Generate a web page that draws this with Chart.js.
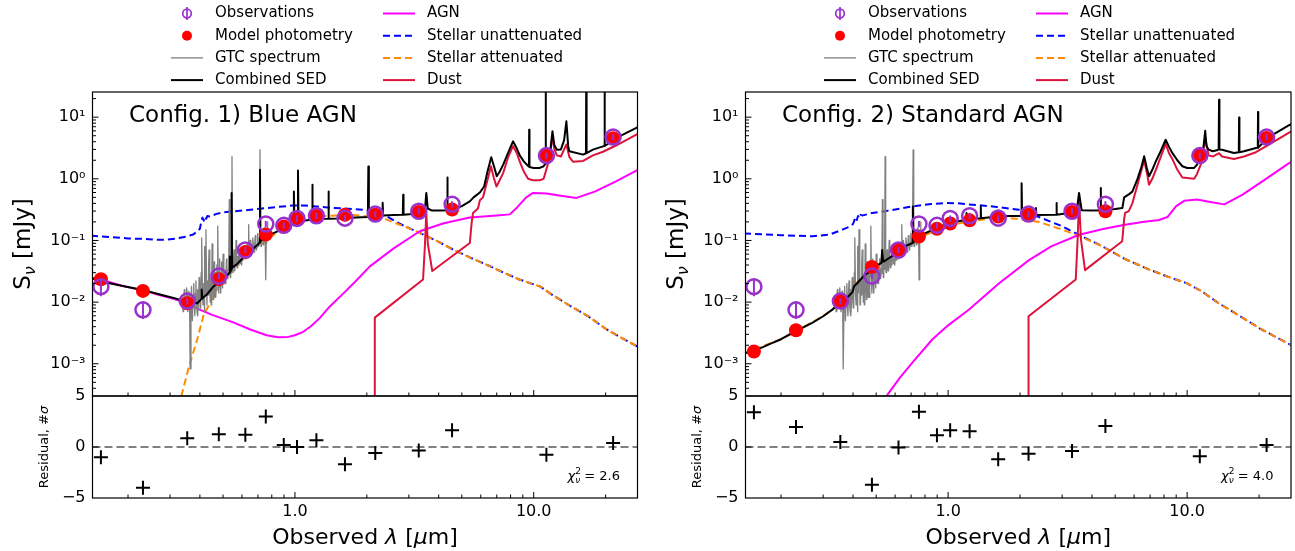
<!DOCTYPE html>
<html>
<head>
<meta charset="utf-8">
<title>SED fits</title>
<script src="https://cdn.jsdelivr.net/npm/chart.js@4.4.1/dist/chart.umd.min.js"></script>
<style>
  html, body { margin: 0; padding: 0; background: #fff; }
  body { position: relative; width: 1295px; height: 551px; overflow: hidden; }
  canvas { position: absolute; }
</style>
</head>
<body>
<canvas id="sed-blue" width="650" height="400" style="left:0px;top:0px"></canvas>
<canvas id="res-blue" width="650" height="171" style="left:0px;top:380px"></canvas>
<canvas id="sed-std" width="642" height="400" style="left:653px;top:0px"></canvas>
<canvas id="res-std" width="642" height="171" style="left:653px;top:380px"></canvas>
<script>
// Photometric bands: FUV NUV u g r i z Y J H Ks W1 W2 W3 W4 (micron)
const bandWave = [0.154, 0.231, 0.354, 0.48, 0.62, 0.755, 0.898, 1.02, 1.23, 1.62, 2.17, 3.3, 4.55, 11.3, 21.5];
const obsFlux  = [0.0178, 0.0075, 0.0104, 0.0264, 0.07, 0.185, 0.176, 0.228, 0.252, 0.23, 0.268, 0.298, 0.387, 2.38, 4.75];
const obsErr   = [0.0053, 0.0022, 0.0012, 0.003, 0.008, 0.021, 0.02, 0.026, 0.029, 0.026, 0.031, 0.034, 0.044, 0.27, 0.54];

const modelBlue = [0.0235, 0.0152, 0.0096, 0.0236, 0.065, 0.125, 0.168, 0.222, 0.25, 0.262, 0.262, 0.29, 0.318, 2.42, 4.55];
const modelStd  = [0.00158, 0.0035, 0.0104, 0.0372, 0.07, 0.116, 0.155, 0.188, 0.212, 0.245, 0.262, 0.29, 0.297, 2.45, 4.6];

const residBlue = [-1.0, -4.0, 0.85, 1.25, 1.2, 3.0, 0.2, 0.0, 0.65, -1.7, -0.6, -0.35, 1.65, -0.75, 0.4];
const residStd  = [3.4, 1.95, 0.5, -3.7, -0.05, 3.45, 1.15, 1.65, 1.55, -1.2, -0.65, -0.4, 2.05, -0.9, 0.2];

const chi2Blue = 2.6;
const chi2Std = 4.0;

// GTC long-slit spectrum [micron, mJy]
const gtcSpec = [
  [0.338,0.012],[0.34,0.007],[0.342,0.0085],[0.344,0.016],[0.346,0.014],[0.348,0.008],[0.35,0.0102],[0.352,0.017],
  [0.354,0.0128],[0.356,0.007],[0.358,0.0088],[0.36,0.015],[0.362,0.0125],[0.364,0.00083],[0.367,0.011],[0.369,0.018],
  [0.371,0.0078],[0.372,0.005],[0.375,0.013],[0.377,0.02],[0.379,0.0088],[0.381,0.006],[0.383,0.0138],[0.385,0.022],
  [0.387,0.0098],[0.389,0.007],[0.391,0.016],[0.392,0.006],[0.395,0.0105],[0.397,0.025],[0.399,0.015],[0.401,0.008],
  [0.403,0.0115],[0.405,0.03],[0.407,0.11],[0.41,0.013],[0.412,0.009],[0.414,0.02],[0.417,0.011],[0.418,0.007],
  [0.419,0.08],[0.421,0.014],[0.424,0.15],[0.427,0.016],[0.428,0.009],[0.43,0.022],[0.433,0.013],[0.435,0.04],
  [0.437,0.07],[0.44,0.017],[0.442,0.01],[0.444,0.024],[0.446,0.009],[0.448,0.015],[0.45,0.088],[0.453,0.018],
  [0.455,0.011],[0.457,0.024],[0.459,0.045],[0.461,0.017],[0.463,0.012],[0.465,0.03],[0.467,0.012],[0.469,0.019],
  [0.471,0.04],[0.473,0.026],[0.475,0.17],[0.478,0.02],[0.48,0.014],[0.482,0.028],[0.484,0.05],[0.486,0.021],
  [0.489,0.014],[0.491,0.03],[0.493,0.045],[0.496,0.023],[0.498,0.017],[0.5,0.06],[0.504,0.026],[0.507,0.02],
  [0.509,0.033],[0.512,0.02],[0.514,0.027],[0.517,0.05],[0.519,0.035],[0.522,0.024],[0.524,0.029],[0.528,0.037],
  [0.531,0.46],[0.534,0.032],[0.536,0.025],[0.538,0.04],[0.542,0.034],[0.545,2.29],[0.548,0.037],[0.55,0.03],
  [0.553,0.044],[0.556,0.07],[0.558,0.039],[0.561,0.032],[0.564,0.05],[0.567,0.1],[0.57,0.044],[0.573,0.036],
  [0.576,0.055],[0.579,0.04],[0.582,0.048],[0.585,0.07],[0.588,0.057],[0.591,0.042],[0.595,0.05],[0.598,0.04],
  [0.602,0.062],[0.606,0.048],[0.61,0.055],[0.614,0.08],[0.618,0.066],[0.622,0.05],[0.626,0.06],[0.63,0.09],
  [0.634,0.072],[0.637,0.055],[0.64,0.18],[0.643,0.06],[0.646,0.066],[0.65,0.1],[0.654,0.08],[0.658,0.06],
  [0.662,0.072],[0.666,0.11],[0.67,0.086],[0.674,0.065],[0.678,0.078],[0.682,0.12],[0.686,0.094],[0.69,0.07],
  [0.694,0.084],[0.698,0.13],[0.702,0.1],[0.705,0.08],[0.709,0.09],[0.714,2.94],[0.718,0.105],[0.721,0.08],
  [0.724,0.094],[0.728,0.15],[0.732,0.118],[0.736,0.085],[0.74,0.1],[0.744,0.16],[0.748,0.128],[0.751,0.09],
  [0.753,0.11],[0.756,0.023],[0.759,0.12],[0.762,0.09],[0.764,0.14],[0.767,0.2],[0.77,0.115]
];

// Config. 1) Blue AGN model components [micron, mJy]
const sedBlue = [
  [0.14,0.0245],[0.16,0.021],[0.19,0.0183],[0.231,0.0157],[0.27,0.0134],[0.31,0.0117],[0.34,0.0105],[0.355,0.0097],
  [0.37,0.0093],[0.38,0.0099],[0.39,0.0096],[0.4,0.0106],[0.405,0.0112],[0.407,0.016],[0.409,0.0114],[0.42,0.0126],
  [0.43,0.0136],[0.44,0.0152],[0.455,0.0178],[0.47,0.0198],[0.474,0.028],[0.478,0.0205],[0.5,0.024],[0.52,0.027],
  [0.532,0.03],[0.534,0.055],[0.537,0.031],[0.541,0.034],[0.543,0.59],[0.546,0.036],[0.57,0.041],[0.6,0.05],
  [0.62,0.058],[0.65,0.068],[0.68,0.078],[0.7,0.086],[0.712,0.093],[0.714,1.4],[0.717,0.098],[0.74,0.106],
  [0.76,0.114],[0.8,0.128],[0.85,0.142],[0.9,0.158],[0.95,0.176],[0.985,0.186],[0.99,0.62],[0.995,0.188],
  [1.025,0.2],[1.03,1.36],[1.035,0.202],[1.1,0.21],[1.15,0.215],[1.18,0.218],[1.183,0.8],[1.186,0.218],
  [1.25,0.222],[1.3,0.224],[1.38,0.226],[1.383,0.62],[1.386,0.226],[1.5,0.228],[1.62,0.232],[1.8,0.236],
  [2.02,0.24],[2.03,1.58],[2.04,0.242],[2.2,0.25],[2.32,0.255],[2.33,0.41],[2.34,0.255],[2.6,0.258],
  [2.83,0.262],[2.84,0.55],[2.85,0.262],[3.1,0.268],[3.33,0.28],[3.5,0.3],[3.55,0.59],[3.6,0.33],
  [3.75,0.305],[4.1,0.305],[4.34,0.31],[4.35,1.05],[4.36,0.31],[4.6,0.316],[5.0,0.36],[5.4,0.43],
  [5.6,0.5],[5.95,0.6],[6.2,0.75],[6.4,1.3],[6.64,2.24],[6.85,1.5],[7.0,1.1],[7.2,1.3],[7.45,1.7],
  [7.8,2.6],[8.19,4.06],[8.5,3.1],[8.74,2.4],[9.1,1.9],[9.5,1.6],[9.55,1.58],[9.57,6.26],[9.6,1.56],
  [10.0,1.5],[10.6,1.5],[11.0,1.6],[11.2,1.75],[11.22,100],[11.25,1.8],[11.66,2.33],[11.98,5.9],[12.2,3.5],
  [12.5,2.97],[13.0,3.0],[13.4,4.2],[13.7,8.56],[13.95,3.3],[14.1,2.8],[16.1,2.47],[16.55,2.6],[16.6,100],
  [16.65,2.6],[17.7,2.97],[19.5,3.36],[19.75,3.4],[19.8,100],[19.85,3.4],[22.2,4.6],[26.9,6.7],[28,7.3]
];
const agnBlue = [
  [0.14,0.0245],[0.154,0.0232],[0.19,0.0183],[0.231,0.0155],[0.27,0.013],[0.31,0.0113],[0.35,0.0097],[0.388,0.0079],
  [0.45,0.0062],[0.552,0.0047],[0.65,0.0036],[0.761,0.0029],[0.85,0.0027],[0.937,0.00273],[1.0,0.0029],[1.083,0.0033],
  [1.17,0.0041],[1.27,0.0055],[1.4,0.0085],[1.6,0.014],[1.8,0.022],[2.06,0.038],[2.6,0.075],[3.33,0.141],
  [4.2,0.19],[5.4,0.235],[7.0,0.255],[7.94,0.265],[8.5,0.34],[9.3,0.5],[9.93,0.59],[11.3,0.58],
  [13.0,0.53],[15.1,0.49],[18,0.62],[22,0.9],[26.9,1.36],[28,1.48]
];
const unattBlue = [
  [0.14,0.12],[0.17,0.113],[0.2,0.108],[0.232,0.106],[0.26,0.103],[0.29,0.103],[0.32,0.108],[0.35,0.115],
  [0.375,0.125],[0.39,0.14],[0.4,0.155],[0.405,0.2],[0.41,0.235],[0.415,0.21],[0.42,0.245],[0.425,0.225],
  [0.43,0.25],[0.44,0.245],[0.47,0.27],[0.5,0.285],[0.552,0.296],[0.65,0.315],[0.761,0.336],[0.85,0.35],
  [0.98,0.37],[1.1,0.37],[1.23,0.356],[1.4,0.34],[1.6,0.33],[1.93,0.315],[2.2,0.28],[2.42,0.246],
  [2.8,0.18],[3.33,0.133],[4.0,0.095],[4.6,0.071],[5.4,0.053],[6.3,0.041],[7.5,0.03],[8.7,0.0233],
  [10.6,0.018],[12.0,0.013],[14.2,0.0087],[17,0.0058],[20.2,0.0036],[23,0.0027],[26.9,0.00195],[28,0.0018]
];
const attBlue = [
  [0.33,0.0002],[0.336,0.00032],[0.36,0.0009],[0.39,0.0025],[0.414,0.006],[0.441,0.0098],[0.486,0.02],[0.54,0.03],
  [0.6,0.048],[0.67,0.07],[0.76,0.1],[0.85,0.14],[0.98,0.19],[1.1,0.22],[1.27,0.245],[1.5,0.255],
  [1.75,0.26],[2.0,0.245],[2.42,0.218],[2.8,0.175],[3.12,0.15],[3.55,0.117],[4.0,0.095],[4.6,0.071],
  [5.4,0.053],[6.3,0.041],[7.5,0.03],[8.7,0.0233],[10.6,0.018],[12.0,0.013],[14.2,0.0087],[17,0.0058],
  [20.2,0.0036],[23,0.0027],[26.9,0.00195],[28,0.0018]
];
const dustBlue = [
  [2.16,0.00001],[2.16,0.0056],[3.44,0.0233],[3.5,0.08],[3.55,0.28],[3.6,0.09],[3.76,0.032],[5.4,0.091],
  [5.5,0.2],[5.57,0.28],[5.84,0.33],[5.95,0.45],[6.13,0.5],[6.4,0.95],[6.62,1.6],[6.8,1.05],
  [6.98,0.75],[7.2,0.95],[7.45,1.25],[7.8,2.2],[8.19,3.4],[8.5,2.6],[8.74,1.9],[9.1,1.3],
  [9.47,1.0],[9.93,0.95],[10.6,0.95],[11.0,1.0],[11.4,1.6],[11.66,2.2],[11.98,5.0],[12.2,3.0],
  [12.5,2.4],[13.0,2.3],[13.4,3.0],[13.7,3.6],[14.1,2.25],[14.6,1.9],[16.1,1.95],[17.7,2.4],
  [19.5,2.75],[22.2,3.5],[26.9,5.2],[28,5.7]
];

// Config. 2) Standard AGN model components [micron, mJy]
const sedStd = [
  [0.14,0.00148],[0.154,0.0016],[0.18,0.0021],[0.2,0.0025],[0.231,0.0034],[0.27,0.0046],[0.3,0.0059],[0.33,0.0077],
  [0.355,0.0098],[0.37,0.011],[0.385,0.0127],[0.398,0.0145],[0.404,0.018],[0.418,0.0206],[0.45,0.028],[0.475,0.032],
  [0.5,0.039],[0.525,0.043],[0.53,0.07],[0.535,0.045],[0.58,0.055],[0.614,0.07],[0.66,0.08],[0.709,0.091],
  [0.712,0.357],[0.716,0.094],[0.756,0.113],[0.79,0.128],[0.893,0.158],[1.0,0.19],[1.1,0.205],[1.19,0.215],
  [1.192,0.28],[1.195,0.216],[1.23,0.222],[1.368,0.23],[1.37,0.357],[1.373,0.23],[1.61,0.245],[1.8,0.25],
  [2.02,0.25],[2.03,0.85],[2.04,0.25],[2.15,0.26],[2.32,0.26],[2.33,0.336],[2.34,0.26],[2.83,0.262],
  [2.84,0.405],[2.85,0.262],[3.2,0.28],[3.45,0.3],[3.53,0.59],[3.62,0.31],[4.0,0.305],[4.34,0.31],
  [4.35,0.71],[4.36,0.31],[5.0,0.325],[5.36,0.336],[5.45,0.5],[5.7,0.56],[5.9,0.62],[6.2,1.0],
  [6.45,1.6],[6.61,2.33],[6.78,1.5],[6.93,1.1],[7.15,1.4],[7.4,1.93],[7.75,2.8],[8.13,4.3],
  [8.4,3.3],[8.67,2.63],[9.1,2.0],[9.55,1.6],[10.0,1.5],[10.7,1.5],[11.0,1.7],[11.4,2.18],
  [11.7,3.2],[11.9,6.0],[12.05,3.4],[12.3,2.97],[12.8,2.8],[13.3,2.9],[13.55,3.0],[13.6,19.1],
  [13.65,3.0],[14.0,2.97],[15.7,2.63],[16.45,2.7],[16.5,9.9],[16.55,2.7],[17.3,2.8],[19.4,3.17],
  [19.75,3.2],[19.8,12.1],[19.85,3.2],[21.7,4.6],[26.7,7.4],[28,8.1]
];
const agnStd = [
  [0.5,0.00012],[0.556,0.00031],[0.63,0.0006],[0.71,0.00105],[0.86,0.0025],[1.0,0.0042],[1.22,0.0075],[1.63,0.02],
  [2.18,0.048],[2.7,0.08],[3.53,0.124],[4.5,0.155],[5.5,0.18],[6.5,0.2],[7.64,0.215],[8.27,0.24],
  [9.0,0.36],[9.72,0.44],[11.0,0.46],[12.5,0.42],[14.3,0.385],[17,0.55],[21,0.95],[26.7,1.8],[28,1.95]
];
const unattStd = [
  [0.14,0.13],[0.2,0.122],[0.27,0.117],[0.32,0.125],[0.361,0.15],[0.39,0.17],[0.4,0.185],[0.405,0.21],
  [0.41,0.24],[0.415,0.215],[0.42,0.25],[0.425,0.23],[0.43,0.26],[0.44,0.255],[0.482,0.28],[0.55,0.3],
  [0.71,0.357],[0.85,0.39],[0.98,0.405],[1.1,0.4],[1.22,0.385],[1.39,0.37],[1.6,0.35],[1.98,0.315],
  [2.4,0.24],[3.0,0.17],[3.5,0.125],[4.4,0.081],[5.5,0.05],[6.9,0.034],[8.5,0.025],[9.9,0.0205],
  [11.5,0.015],[13.6,0.0095],[16,0.0065],[20,0.0038],[26,0.0022],[28,0.0019]
];
const attStd = [
  [0.14,0.00148],[0.2,0.0025],[0.231,0.0034],[0.3,0.0059],[0.355,0.0098],[0.385,0.0127],[0.398,0.0145],[0.41,0.02],
  [0.45,0.027],[0.48,0.034],[0.53,0.043],[0.62,0.068],[0.76,0.11],[0.9,0.15],[1.0,0.175],[1.22,0.205],
  [1.5,0.225],[1.75,0.235],[2.0,0.22],[2.4,0.2],[2.72,0.17],[3.0,0.15],[3.4,0.125],[3.5,0.12],
  [4.4,0.081],[5.5,0.05],[6.9,0.034],[8.5,0.025],[9.9,0.0205],[11.5,0.015],[13.6,0.0095],[16,0.0065],
  [20,0.0038],[26,0.0022],[28,0.0019]
];
const dustStd = [
  [2.17,0.00001],[2.17,0.0059],[3.42,0.0233],[3.48,0.1],[3.53,0.45],[3.6,0.1],[3.74,0.033],[5.35,0.097],
  [5.45,0.22],[5.5,0.28],[5.7,0.3],[5.9,0.4],[6.2,0.8],[6.61,2.0],[6.8,1.2],[6.93,0.8],
  [7.15,1.0],[7.4,1.4],[7.7,2.1],[8.13,3.7],[8.4,2.6],[8.67,2.1],[9.1,1.4],[9.55,1.05],
  [10.7,1.0],[11.0,1.2],[11.4,1.7],[11.9,4.6],[12.3,2.4],[12.8,2.3],[13.6,2.6],[14.0,2.3],
  [15.7,2.1],[17.3,2.3],[19.4,2.7],[21.7,3.5],[26.7,5.6],[28,6.2]
];

// axes
const X_MIN = 0.142, X_MAX = 27.2;
const Y_MIN = 3.16e-4, Y_MAX = 25.6;
const xMajor = [1, 10];
const xMajorLabels = ['1.0', '10.0'];
const xMinor = [0.2, 0.3, 0.4, 0.5, 0.6, 0.7, 0.8, 0.9, 2, 3, 4, 5, 6, 7, 8, 9, 20];
const yMajor = [1e-3, 1e-2, 1e-1, 1, 10];
const yMajorLabels = ['10⁻³', '10⁻²', '10⁻¹', '10⁰', '10¹'];
const yMinor = [];
[1e-4, 1e-3, 1e-2, 1e-1, 1, 10].forEach(d => { for (let k = 2; k <= 9; k++) yMinor.push(k * d); });
const resMajor = [-5, 0, 5];

const FAMILY = 'DejaVu Sans';
const COLORS = {
  obs: '#9932cc', model: '#ff0000', gtc: '#808080', sed: '#000000',
  agn: '#ff00ff', unatt: '#0000ff', att: '#ff8c00', dust: '#dc143c'
};

const legendCols = [
  ['Observations', 'Model photometry', 'GTC spectrum', 'Combined SED'],
  ['AGN', 'Stellar unattenuated', 'Stellar attenuated', 'Dust']
];

const xy = pairs => pairs.map(([x, y]) => ({ x, y }));
const zip = (xs, ys) => xs.map((x, i) => ({ x, y: ys[i] }));

function line(label, pairs, color, width, dash, order) {
  return {
    label, data: xy(pairs), showLine: true,
    borderColor: color, backgroundColor: color, borderWidth: width,
    borderDash: dash || [], borderJoinStyle: 'round', borderCapStyle: 'butt',
    pointRadius: 0, tension: 0, order
  };
}

// mixed-style text (sub/superscripts, italic symbols)
function partFont(p) { return (p.it ? 'italic ' : '') + p.s + 'px "' + FAMILY + '"'; }
function richWidth(ctx, parts) {
  let w = 0;
  parts.forEach(p => { if (p.noAdv) return; ctx.font = partFont(p); w += ctx.measureText(p.t).width; });
  return w;
}
function drawRich(ctx, parts, x, y, align) {
  const w = richWidth(ctx, parts);
  let cx = align === 'center' ? x - w / 2 : align === 'right' ? x - w : x;
  ctx.textAlign = 'left';
  ctx.textBaseline = 'alphabetic';
  parts.forEach(p => {
    ctx.font = partFont(p);
    ctx.fillText(p.t, cx, y + (p.dy || 0));
    if (!p.noAdv) cx += ctx.measureText(p.t).width;
  });
}

// frame plus inward tick marks on bottom and left
function framePlugin(xMaj, xMin, yMaj, yMin) {
  return {
    id: 'frameTicks',
    afterDraw(chart) {
      const { ctx, chartArea: a, scales } = chart;
      ctx.save();
      ctx.strokeStyle = '#000';
      ctx.lineWidth = 1;
      const xMark = (vals, len) => vals.forEach(v => {
        const px = scales.x.getPixelForValue(v);
        if (px <= a.left + 0.5 || px >= a.right - 0.5) return;
        ctx.beginPath(); ctx.moveTo(px, a.bottom); ctx.lineTo(px, a.bottom - len); ctx.stroke();
      });
      const yMark = (vals, len) => vals.forEach(v => {
        const py = scales.y.getPixelForValue(v);
        if (py <= a.top + 0.5 || py >= a.bottom - 0.5) return;
        ctx.beginPath(); ctx.moveTo(a.left, py); ctx.lineTo(a.left + len, py); ctx.stroke();
      });
      xMark(xMaj, 6); xMark(xMin, 3.5);
      yMark(yMaj, 6); yMark(yMin, 3.5);
      ctx.lineWidth = 1.2;
      ctx.strokeRect(a.left, a.top, a.right - a.left, a.bottom - a.top);
      ctx.restore();
    }
  };
}

function errorBarPlugin(lam, flux, err) {
  return {
    id: 'obsErrors',
    afterDatasetsDraw(chart) {
      const { ctx, chartArea: a, scales: { x, y } } = chart;
      ctx.save();
      ctx.beginPath(); ctx.rect(a.left, a.top, a.right - a.left, a.bottom - a.top); ctx.clip();
      ctx.strokeStyle = COLORS.obs;
      ctx.lineWidth = 2;
      lam.forEach((l, i) => {
        const px = x.getPixelForValue(l);
        ctx.beginPath();
        ctx.moveTo(px, y.getPixelForValue(flux[i] - err[i]));
        ctx.lineTo(px, y.getPixelForValue(flux[i] + err[i]));
        ctx.stroke();
      });
      ctx.restore();
    }
  };
}

const legendPlugin = {
  id: 'sedLegend',
  afterDraw(chart) {
    const { ctx, chartArea: a } = chart;
    const sets = chart.data.datasets;
    ctx.save();
    legendCols.forEach((col, c) => {
      const x0 = a.left + (c === 0 ? 78.5 : 290.5);
      col.forEach((label, r) => {
        const ds = sets.find(d => d.label === label);
        const y = 13.5 + r * 22.2;
        const xm = x0 + 16;
        if (ds.showLine) {
          ctx.strokeStyle = ds.borderColor;
          ctx.lineWidth = ds.borderWidth;
          ctx.setLineDash(ds.borderDash);
          ctx.beginPath(); ctx.moveTo(x0, y); ctx.lineTo(x0 + 32, y); ctx.stroke();
          ctx.setLineDash([]);
        } else if (label === 'Observations') {
          ctx.strokeStyle = COLORS.obs;
          ctx.lineWidth = 1.7;
          ctx.beginPath(); ctx.arc(xm, y, 4.3, 0, Math.PI * 2); ctx.stroke();
          ctx.beginPath(); ctx.moveTo(xm, y - 6.5); ctx.lineTo(xm, y + 6.5); ctx.stroke();
        } else {
          ctx.fillStyle = ds.backgroundColor;
          ctx.beginPath(); ctx.arc(xm, y, 5, 0, Math.PI * 2); ctx.fill();
        }
        ctx.fillStyle = '#000';
        ctx.font = '15px "' + FAMILY + '"';
        ctx.textAlign = 'left';
        ctx.textBaseline = 'middle';
        ctx.fillText(label, x0 + 44, y);
      });
    });
    ctx.restore();
  }
};

function sedTextPlugin(title) {
  return {
    id: 'sedText',
    afterDraw(chart) {
      const { ctx, chartArea: a } = chart;
      ctx.save();
      ctx.fillStyle = '#000';
      drawRich(ctx, [{ t: title, s: 23 }], a.left + 36.5, 121.5, 'left');
      ctx.translate(30, (a.top + a.bottom) / 2);
      ctx.rotate(-Math.PI / 2);
      drawRich(ctx, [{ t: 'S', s: 23 }, { t: 'ν', s: 16, it: true, dy: 5 }, { t: ' [mJy]', s: 23 }], 0, 0, 'center');
      ctx.restore();
    }
  };
}

function resTextPlugin(chi2) {
  return {
    id: 'resText',
    afterDraw(chart) {
      const { ctx, chartArea: a } = chart;
      ctx.save();
      ctx.fillStyle = '#000';
      drawRich(ctx, [
        { t: 'Observed ', s: 22 }, { t: 'λ', s: 22, it: true }, { t: ' [', s: 22 },
        { t: 'μ', s: 22, it: true }, { t: 'm]', s: 22 }
      ], (a.left + a.right) / 2, 164, 'center');
      drawRich(ctx, [
        { t: 'χ', s: 13, it: true }, { t: '2', s: 9, dy: -6, noAdv: true },
        { t: 'ν', s: 9, it: true, dy: 3 }, { t: ' = ' + chi2.toFixed(1), s: 13 }
      ], a.right - 17.5, 100, 'right');
      ctx.translate(48, (a.top + a.bottom) / 2);
      ctx.rotate(-Math.PI / 2);
      drawRich(ctx, [{ t: 'Residual, #', s: 13 }, { t: 'σ', s: 13, it: true }], 0, 0, 'center');
      ctx.restore();
    }
  };
}

const noGrid = { display: false, drawTicks: false };
const tickFont = { family: FAMILY, size: 16 };

// fixed axis box sizes; drop the label overhang padding Chart.js adds
function fixWidth(w) {
  return s => { s.width = w; s.paddingTop = 0; s.paddingBottom = 0; s.paddingLeft = 0; s.paddingRight = 0; };
}
function fixHeight(h) {
  return s => { s.height = h; s.paddingTop = 0; s.paddingBottom = 0; s.paddingLeft = 0; s.paddingRight = 0; };
}

function drawSed(id, title, model, sed, agn, unatt, att, dust, padRight) {
  new Chart(document.getElementById(id), {
    type: 'scatter',
    data: {
      datasets: [
        { label: 'Observations', data: zip(bandWave, obsFlux), pointStyle: 'circle', pointRadius: 7.5,
          pointBorderWidth: 2.5, borderWidth: 2.5, borderColor: COLORS.obs, backgroundColor: 'rgba(0,0,0,0)', order: 0 },
        { label: 'Model photometry', data: zip(bandWave, model), pointStyle: 'circle', pointRadius: 7,
          pointBorderWidth: 0, borderWidth: 0, borderColor: COLORS.model, backgroundColor: COLORS.model, order: 1 },
        line('Combined SED', sed, COLORS.sed, 2, null, 2),
        line('GTC spectrum', gtcSpec, COLORS.gtc, 1.3, null, 3),
        line('Dust', dust, COLORS.dust, 2, null, 4),
        line('AGN', agn, COLORS.agn, 2, null, 5),
        line('Stellar attenuated', att, COLORS.att, 2, [7, 4], 6),
        line('Stellar unattenuated', unatt, COLORS.unatt, 2, [7, 4], 7)
      ]
    },
    options: {
      responsive: false,
      animation: false,
      events: [],
      layout: { autoPadding: false, padding: { top: 92, right: padRight, bottom: 4, left: 0 } },
      plugins: { legend: { display: false }, tooltip: { enabled: false } },
      scales: {
        x: {
          type: 'logarithmic', min: X_MIN, max: X_MAX,
          grid: noGrid, border: { display: false }, ticks: { display: false },
          afterFit: fixHeight(0)
        },
        y: {
          type: 'logarithmic', min: Y_MIN, max: Y_MAX,
          grid: noGrid, border: { display: false },
          ticks: {
            font: tickFont, color: '#000', padding: 7, autoSkip: false,
            callback: v => { const i = yMajor.indexOf(v); return i < 0 ? '' : yMajorLabels[i]; }
          },
          afterBuildTicks: s => { s.ticks = yMajor.map(value => ({ value })); },
          afterFit: fixWidth(92.5)
        }
      }
    },
    plugins: [
      errorBarPlugin(bandWave, obsFlux, obsErr),
      framePlugin(xMajor, xMinor, yMajor, yMinor),
      legendPlugin,
      sedTextPlugin(title)
    ]
  });
}

function drawResiduals(id, resid, chi2, padRight) {
  new Chart(document.getElementById(id), {
    type: 'scatter',
    data: {
      datasets: [
        { label: 'Residual', data: zip(bandWave, resid), pointStyle: 'cross', pointRadius: 7,
          pointBorderWidth: 2, borderWidth: 2, borderColor: '#000', backgroundColor: '#000', order: 0 },
        { label: 'Zero', data: [{ x: X_MIN, y: 0 }, { x: X_MAX, y: 0 }], showLine: true,
          borderColor: '#808080', borderWidth: 2, borderDash: [8, 4], pointRadius: 0, order: 1 }
      ]
    },
    options: {
      responsive: false,
      animation: false,
      events: [],
      layout: { autoPadding: false, padding: { top: 16, right: padRight, bottom: 0, left: 0 } },
      plugins: { legend: { display: false }, tooltip: { enabled: false } },
      scales: {
        x: {
          type: 'logarithmic', min: X_MIN, max: X_MAX,
          grid: noGrid, border: { display: false },
          ticks: {
            font: tickFont, color: '#000', padding: 4, autoSkip: false, maxRotation: 0,
            callback: v => { const i = xMajor.indexOf(v); return i < 0 ? '' : xMajorLabels[i]; }
          },
          afterBuildTicks: s => { s.ticks = xMajor.map(value => ({ value })); },
          afterFit: fixHeight(53)
        },
        y: {
          type: 'linear', min: -5, max: 5,
          grid: noGrid, border: { display: false },
          ticks: {
            font: tickFont, color: '#000', padding: 7, autoSkip: false,
            callback: v => (v < 0 ? '−' + Math.abs(v) : String(v))
          },
          afterBuildTicks: s => { s.ticks = resMajor.map(value => ({ value })); },
          afterFit: fixWidth(92.5)
        }
      }
    },
    plugins: [
      framePlugin(xMajor, xMinor, resMajor, []),
      resTextPlugin(chi2)
    ]
  });
}

drawSed('sed-blue', 'Config. 1) Blue AGN', modelBlue, sedBlue, agnBlue, unattBlue, attBlue, dustBlue, 12.5);
drawResiduals('res-blue', residBlue, chi2Blue, 12.5);
drawSed('sed-std', 'Config. 2) Standard AGN', modelStd, sedStd, agnStd, unattStd, attStd, dustStd, 4);
drawResiduals('res-std', residStd, chi2Std, 4);
</script>
</body>
</html>
